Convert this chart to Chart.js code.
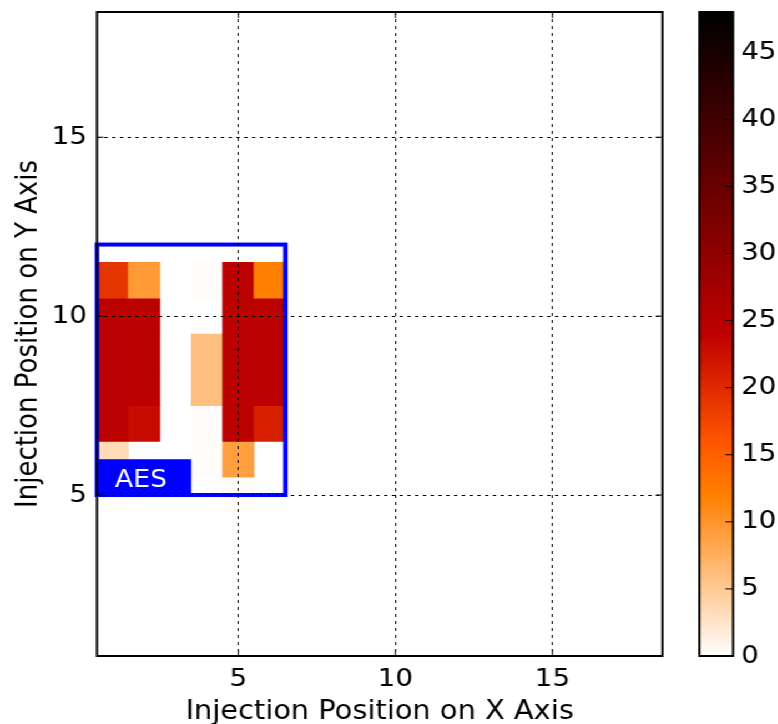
<!DOCTYPE html>
<html>
<head>
<meta charset="utf-8">
<script src="https://cdn.jsdelivr.net/npm/chart.js@4.4.0/dist/chart.umd.min.js"></script>
<style>
  html, body { margin: 0; padding: 0; background: #fff; overflow: hidden; }
  #wrap { position: absolute; left: 0; top: 0; height: 724px; transform-origin: 0 0; }
  #mainBox { position: absolute; left: 0; top: 0; height: 724px; }
  #barBox { position: absolute; top: 0; height: 724px; }
</style>
</head>
<body>
<div id="wrap">
  <div id="mainBox"><canvas id="heatChart"></canvas></div>
  <div id="barBox"><canvas id="colorBar"></canvas></div>
</div>
<script>
// grid columns (x) and rows (y) of the injection map
const colX = [1, 2, 3, 4, 5, 6];
const rowY = [11, 10, 9, 8, 7, 6, 5];

// one value per column, for each row
const row11 = [19, 9.5, 0, 0.3, 24.5, 12];
const row10 = [24.5, 24.5, 0, 0, 24.5, 24.5];
const row9 = [24.5, 24.5, 0, 6, 24.5, 24.5];
const row8 = [24.5, 24.5, 0, 6, 24.5, 24.5];
const row7 = [24.5, 23, 0, 0.3, 24.5, 21];
const row6 = [3.4, 0, 0, 0.3, 9, 0];
const row5 = [0.3, 0, 0, 0, 0.3, 0];
const rows = [row11, row10, row9, row8, row7, row6, row5];

const xTicks = [5, 10, 15];
const yTicks = [5, 10, 15];
const cbTicks = [0, 5, 10, 15, 20, 25, 30, 35, 40, 45];
const vMax = 48;

// AES region outline and its tag, in data units
const aesBox = { x0: 0.5, x1: 6.5, y0: 5, y1: 12 };
const aesTag = { text: 'AES', x0: 0.5, x1: 3.5, y0: 5, y1: 6, tx: 1.9, ty: 5.22 };

// the reference glyphs are wider than DejaVu, so the figure is drawn narrow and stretched sideways
const k = 1.11;
const px = v => v / k;
const wrap = document.getElementById('wrap');
wrap.style.width = Math.round(px(778)) + 'px';
wrap.style.transform = 'scaleX(' + k + ')';
document.getElementById('mainBox').style.width = Math.round(px(690)) + 'px';
document.getElementById('barBox').style.left = Math.round(px(690)) + 'px';
document.getElementById('barBox').style.width = (Math.round(px(778)) - Math.round(px(690))) + 'px';

Chart.defaults.font.family = "'DejaVu Sans', sans-serif";
Chart.defaults.font.size = 25;
Chart.defaults.color = '#000';

// gist_heat reversed
function heatColor(v) {
  const t = 1 - Math.min(Math.max(v / vMax, 0), 1);
  const c = x => Math.round(255 * Math.min(Math.max(x, 0), 1));
  return 'rgb(' + c(1.5 * t) + ',' + c(2 * t - 1) + ',' + c(4 * t - 3) + ')';
}

const datasets = rows.map((vals, r) => {
  const cells = [];
  const colors = [];
  vals.forEach((v, i) => {
    if (v > 0) {
      cells.push({ x: colX[i], y: [rowY[r] - 0.5, rowY[r] + 0.5] });
      colors.push(heatColor(v));
    }
  });
  return {
    data: cells,
    backgroundColor: colors,
    borderWidth: 0,
    barPercentage: 1,
    categoryPercentage: 1,
    grouped: false
  };
});

const noEdgePad = s => { s.paddingTop = 0; s.paddingBottom = 0; s.paddingLeft = 0; s.paddingRight = 0; };

const aesPlugin = {
  id: 'aes',
  afterDatasetsDraw(chart) {
    const { ctx, scales: { x, y } } = chart;
    ctx.save();
    ctx.strokeStyle = '#0000ff';
    ctx.lineWidth = 4;
    ctx.strokeRect(x.getPixelForValue(aesBox.x0), y.getPixelForValue(aesBox.y1),
      x.getPixelForValue(aesBox.x1) - x.getPixelForValue(aesBox.x0),
      y.getPixelForValue(aesBox.y0) - y.getPixelForValue(aesBox.y1));
    ctx.fillStyle = '#0000ff';
    ctx.fillRect(x.getPixelForValue(aesTag.x0), y.getPixelForValue(aesTag.y1),
      x.getPixelForValue(aesTag.x1) - x.getPixelForValue(aesTag.x0),
      y.getPixelForValue(aesTag.y0) - y.getPixelForValue(aesTag.y1));
    ctx.fillStyle = '#fff';
    ctx.font = "24px 'DejaVu Sans', sans-serif";
    ctx.textAlign = 'center';
    ctx.textBaseline = 'alphabetic';
    ctx.fillText(aesTag.text, x.getPixelForValue(aesTag.tx), y.getPixelForValue(aesTag.ty));
    ctx.restore();
  }
};

const framePlugin = {
  id: 'frame',
  afterDraw(chart) {
    const { ctx, chartArea: a, scales: { x, y } } = chart;
    ctx.save();
    ctx.strokeStyle = '#000';
    ctx.lineWidth = 1;
    ctx.beginPath();
    xTicks.forEach(v => {
      const p = x.getPixelForValue(v);
      ctx.moveTo(p, a.bottom); ctx.lineTo(p, a.bottom - 6);
      ctx.moveTo(p, a.top); ctx.lineTo(p, a.top + 6);
    });
    yTicks.forEach(v => {
      const p = y.getPixelForValue(v);
      ctx.moveTo(a.left, p); ctx.lineTo(a.left + 6, p);
      ctx.moveTo(a.right, p); ctx.lineTo(a.right - 6, p);
    });
    ctx.stroke();
    ctx.lineWidth = 2;
    ctx.strokeRect(a.left, a.top, a.right - a.left, a.bottom - a.top);
    ctx.restore();
  }
};

new Chart(document.getElementById('heatChart'), {
  type: 'bar',
  data: { datasets: datasets },
  options: {
    responsive: true,
    maintainAspectRatio: false,
    animation: false,
    events: [],
    layout: { padding: { left: 0, right: px(690 - 662), top: 12, bottom: 0 } },
    plugins: { legend: { display: false }, tooltip: { enabled: false } },
    scales: {
      x: {
        type: 'linear',
        min: 0.5,
        max: 18.5,
        offset: false,
        afterBuildTicks: s => { s.ticks = xTicks.map(v => ({ value: v })); },
        afterFit: s => { s.height = 68; noEdgePad(s); },
        grid: { color: '#000', lineWidth: 1, drawTicks: false, offset: false, z: 1 },
        border: { display: false, dash: [3, 4] },
        ticks: { padding: 8, maxRotation: 0, autoSkip: false },
        title: { display: true, text: 'Injection Position on X Axis', font: { size: 26 }, padding: { top: 0, bottom: -4 } }
      },
      y: {
        type: 'linear',
        min: 0.5,
        max: 18.5,
        afterBuildTicks: s => { s.ticks = yTicks.map(v => ({ value: v })); },
        afterFit: s => { s.width = px(97); noEdgePad(s); },
        grid: { color: '#000', lineWidth: 1, drawTicks: false, z: 1 },
        border: { display: false, dash: [3, 4] },
        ticks: { padding: 9 },
        title: { display: true, text: 'Injection Position on Y Axis', font: { size: 26 }, padding: { top: px(12), bottom: 0 } }
      }
    }
  },
  plugins: [aesPlugin, framePlugin]
});

const barFramePlugin = {
  id: 'barFrame',
  afterDraw(chart) {
    const { ctx, chartArea: a, scales: { y } } = chart;
    ctx.save();
    ctx.strokeStyle = '#000';
    ctx.lineWidth = 1;
    ctx.beginPath();
    cbTicks.forEach(v => {
      const p = y.getPixelForValue(v);
      ctx.moveTo(a.right, p); ctx.lineTo(a.right - 7, p);
    });
    ctx.stroke();
    ctx.lineWidth = 2;
    ctx.strokeRect(a.left, a.top, a.right - a.left, a.bottom - a.top);
    ctx.restore();
  }
};

new Chart(document.getElementById('colorBar'), {
  type: 'bar',
  data: {
    labels: [''],
    datasets: [{
      data: [[0, vMax]],
      borderWidth: 0,
      barPercentage: 1,
      categoryPercentage: 1,
      backgroundColor: c => {
        const chart = c.chart;
        if (!chart.chartArea) return heatColor(vMax / 2);
        const y = chart.scales.y;
        const g = chart.ctx.createLinearGradient(0, y.getPixelForValue(0), 0, y.getPixelForValue(vMax));
        for (let i = 0; i <= 48; i++) g.addColorStop(i / 48, heatColor(i / 48 * vMax));
        return g;
      }
    }]
  },
  options: {
    responsive: true,
    maintainAspectRatio: false,
    animation: false,
    events: [],
    layout: { padding: { left: px(699 - 690), right: 0, top: 12, bottom: 68 } },
    plugins: { legend: { display: false }, tooltip: { enabled: false } },
    scales: {
      x: { display: false },
      y: {
        position: 'right',
        min: 0,
        max: vMax,
        afterBuildTicks: s => { s.ticks = cbTicks.map(v => ({ value: v })); },
        afterFit: s => { s.width = px(778 - 733); noEdgePad(s); },
        grid: { display: false, drawTicks: false },
        border: { display: false },
        ticks: { padding: px(8) }
      }
    }
  },
  plugins: [barFramePlugin]
});
</script>
</body>
</html>
